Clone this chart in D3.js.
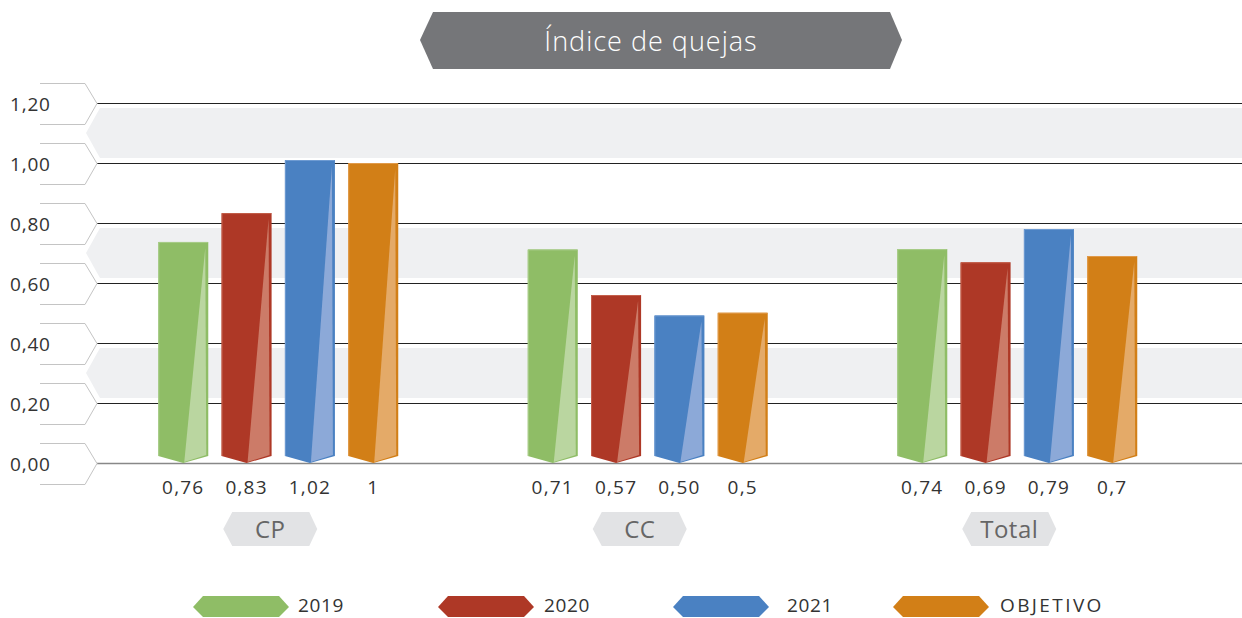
<!DOCTYPE html>
<html><head><meta charset="utf-8">
<script src="https://cdn.jsdelivr.net/npm/d3@7"></script>
<style>
html,body{margin:0;padding:0;background:#fff;}
svg{display:block;font-family:"Open Sans",sans-serif;}
</style></head>
<body>
<svg id="c" width="1242" height="618"></svg>
<script>
const categories = ["CP", "CC", "Total"];
const series = ["2019", "2020", "2021", "OBJETIVO"];
// bar heights as drawn in the picture
const values2019 = [0.737, 0.712, 0.713];
const values2020 = [0.833, 0.56, 0.669];
const values2021 = [1.01, 0.492, 0.78];
const valuesObjetivo = [1.0, 0.501, 0.69];
// printed value labels
const valueLabels2019 = ["0,76", "0,71", "0,74"];
const valueLabels2020 = ["0,83", "0,57", "0,69"];
const valueLabels2021 = ["1,02", "0,50", "0,79"];
const valueLabelsObjetivo = ["1", "0,5", "0,7"];
const yTicks = [0, 0.2, 0.4, 0.6, 0.8, 1.0, 1.2];
const yTickLabels = ["0,00", "0,20", "0,40", "0,60", "0,80", "1,00", "1,20"];
const title = "Índice de quejas";

const colors = ["#8fbd66", "#ae3826", "#4a81c2", "#d27f17"];
const lights = ["#bad6a0", "#cc7b68", "#8ca9d8", "#e4aa68"];
const edges = ["#a9cd8a", "#c4604c", "#6e9bd2", "#e19a4a"];

const allValues = [values2019, values2020, values2021, valuesObjetivo];
const allLabels = [valueLabels2019, valueLabels2020, valueLabels2021, valueLabelsObjetivo];

const svg = d3.select("#c");
const y = d3.scaleLinear().domain([0, 1.2]).range([463, 103]);
const x0 = d3.scaleBand().domain(categories).range([93.5, 1202]).padding(0);
const x1 = d3.scaleBand().domain(series).range([-120, 120]).paddingInner(0.21).paddingOuter(0);

// background bands
const bandPairs = [[1.2, 1.0], [0.8, 0.6], [0.4, 0.2]];
svg.append("g").selectAll("path").data(bandPairs).join("path")
  .attr("d", d => {
    const t = y(d[0]) + 5, b = y(d[1]) - 5, m = (t + b) / 2;
    return `M100,${t} L1242,${t} L1242,${b} L100,${b} L86,${m} Z`;
  })
  .attr("fill", "#eff0f2");

// gridlines
svg.append("g").selectAll("line").data(yTicks).join("line")
  .attr("x1", 97).attr("x2", 1242)
  .attr("y1", d => Math.round(y(d)) + 0.5).attr("y2", d => Math.round(y(d)) + 0.5)
  .attr("stroke", d => d === 0 ? "#888" : "#222")
  .attr("stroke-width", d => d === 0 ? 1.5 : 1);

// y tick boxes
const tg = svg.append("g").selectAll("g").data(yTicks).join("g")
  .attr("transform", d => `translate(0,${Math.round(y(d)) + 0.5})`);
tg.append("path")
  .attr("d", "M40,-20 L85,-20 L97,0 L85,21 L40,21")
  .attr("fill", "none").attr("stroke", "#c4c4c4").attr("stroke-width", 1);
tg.append("text").text((d, i) => yTickLabels[i])
  .attr("x", 10).attr("y", 7)
  .attr("font-size", 19).attr("letter-spacing", 0.8).attr("fill", "#333");

// bars
const groups = svg.append("g").selectAll("g").data(categories).join("g")
  .attr("transform", d => `translate(${x0(d) + x0.bandwidth() / 2},0)`);

series.forEach((s, si) => {
  const bx = x1(s), w = x1.bandwidth();
  const base = y(0);
  groups.append("path")
    .attr("d", (c, ci) => {
      const top = y(allValues[si][ci]);
      return `M${bx},${top} L${bx + w},${top} L${bx + w},${base - 7} L${bx + w / 2},${base} L${bx},${base - 7} Z`;
    })
    .attr("fill", colors[si]);
  groups.append("path")
    .attr("d", (c, ci) => {
      const top = y(allValues[si][ci]);
      return `M${bx + 0.5},${base - 7} L${bx + 0.5},${top + 0.5} L${bx + w - 0.5},${top + 0.5}`;
    })
    .attr("fill", "none").attr("stroke", edges[si]).attr("stroke-width", 1);
  groups.append("path")
    .attr("d", (c, ci) => {
      const top = y(allValues[si][ci]);
      return `M${bx + w - 3},${top + 6} L${bx + w - 2},${base - 8} L${bx + w / 2 + 1},${base - 1} Z`;
    })
    .attr("fill", lights[si]);
  groups.append("text")
    .text((c, ci) => allLabels[si][ci])
    .attr("x", bx + w / 2).attr("y", 494)
    .attr("text-anchor", "middle").attr("font-size", 19).attr("letter-spacing", 1.2).attr("fill", "#333");
});

// category labels
const cl = groups.append("g").attr("transform", "translate(-8,529)");
cl.append("path").attr("d", "M-47,0 L-38,-17 L39,-17 L47,0 L39,17 L-38,17 Z").attr("fill", "#e2e3e5");
cl.append("text").text(d => d).attr("x", 0).attr("y", 9)
  .attr("text-anchor", "middle").attr("font-size", 24).attr("letter-spacing", 0.5).attr("fill", "#666");

// title
const tgt = svg.append("g");
tgt.append("path").attr("d", "M420,40 L433,12 L890,12 L902,40 L890,69 L433,69 Z").attr("fill", "#757679");
tgt.append("text").text(title).attr("x", 651).attr("y", 51).attr("text-anchor", "middle")
  .attr("font-size", 27).attr("font-weight", 300).attr("letter-spacing", 1).attr("fill", "#fff");

// legend
const legendX = [193, 438, 673, 893];
const legendTextX = [298, 544, 787, 1000];
const legendSpacing = [0.6, 0.6, 0.6, 2.4];
const lg = svg.append("g").selectAll("g").data(series).join("g");
lg.append("path").attr("d", (d, i) => {
  const x = legendX[i];
  return `M${x},607 L${x + 10},596 L${x + 86},596 L${x + 96},607 L${x + 86},617 L${x + 10},617 Z`;
}).attr("fill", (d, i) => colors[i]);
lg.append("text").text(d => d).attr("x", (d, i) => legendTextX[i]).attr("y", 612)
  .attr("font-size", 19).attr("letter-spacing", (d, i) => legendSpacing[i]).attr("fill", "#333");
</script>
</body></html>
